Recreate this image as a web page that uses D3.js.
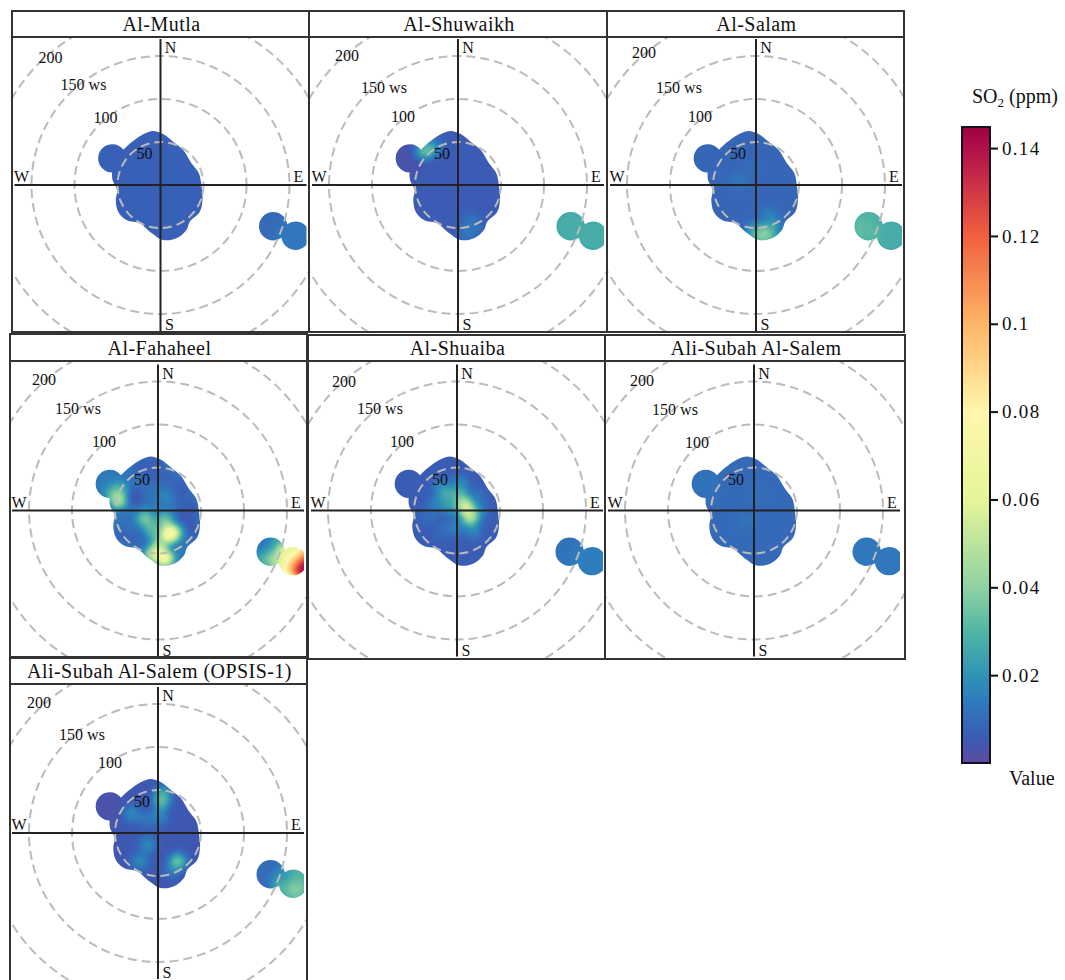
<!DOCTYPE html>
<meta charset="utf-8">
<style>
  body { margin: 0; background: white; }
  text { font-family: "Liberation Serif", serif; fill: #111; }
  .title { font-size: 20px; letter-spacing: 0.45px; text-anchor: middle; }
  .lab { font-size: 16px; text-anchor: middle; }
  .frame { fill: none; stroke: #333; stroke-width: 2; }
  .cross { stroke: #222; stroke-width: 2; }
  .ring { fill: none; stroke: #bbb; stroke-width: 2; stroke-dasharray: 9 5; }
  .bar-axis text { font-size: 19px; letter-spacing: 1.3px; font-family: "Liberation Serif", serif; }
  .bar-axis line { stroke: #111; stroke-width: 2; }
</style>
<script src="https://d3js.org/d3.v7.min.js"></script>
<div id="my_dataviz"></div>

<script>
  const stations = ["Al-Mutla", "Al-Shuwaikh", "Al-Salam", "Al-Fahaheel", "Al-Shuaiba",
                    "Ali-Subah Al-Salem", "Ali-Subah Al-Salem (OPSIS-1)"];

  // panel frames
  const frameLeft   = [12, 309, 607, 10, 308, 605, 10];
  const frameRight  = [309, 607, 904, 307, 605, 905, 307];
  const titleTop    = [11, 11, 11, 334, 335, 335, 658];
  const titleBottom = [37, 37, 37, 361, 361, 361, 684];
  const frameBottom = [332, 332, 332, 657, 659, 659, 990];
  const centerX     = [160.5, 458, 756, 158, 457, 754, 158];
  const centerY     = [185, 185, 185, 510.5, 510.5, 510.5, 833];

  // label offsets from the panel centre [200, 150 ws, 100, 50]
  const ringLabelDx = [[-110, -77, -55, -16], [-111, -74, -55, -16], [-112, -77, -56, -18], [-114, -80, -54, -16],
                       [-113, -77, -55, -17], [-112, -79, -57, -18], [-119, -76, -48, -16]];
  const ringLabelDy = [[-127, -100, -67, -31], [-129, -97, -68, -31], [-132, -97, -68, -31], [-131, -102, -69, -31],
                       [-129, -102, -69, -31], [-130, -101, -68, -31], [-130, -98, -70, -31]];

  const ringValues = [50, 100, 150, 200];
  const ringNames = ["200", "150", "100", "50"];

  // outline of the wind-speed bins that hold data (east, north), the same for every station
  const edgeEast  = [-8.5, 3, 14.7, 26.4, 36, 44.6, 47.7, 48.8, 45.7, 34, 30.2, 18.6, 3, -12.4, -24,
                     -39.5, -49.2, -52, -50.4, -55.8, -55.8, -51.2, -41.5, -28, -18.2];
  const edgeNorth = [62.8, 59.3, 50.4, 40.7, 25.2, 13.6, -1.9, -17.4, -31, -42.6, -52.3, -62, -63.9, -54.3, -44.6,
                     -40.7, -31, -17.4, -5.8, 5.8, 17.4, 29, 42.6, 54.2, 60];
  const lobeEast  = [-56, 131, 157];
  const lobeNorth = [31, -48, -59];

  // SO2: background level, the three outlying lobes, then [east, north, ppm] patches
  const baseLevel = [0.0075, 0.0055, 0.0085, 0.012, 0.0065, 0.0095, 0.005];
  const lobeLevel = [
    [0.0075, 0.0095, 0.013],
    [0.003, 0.027, 0.027],
    [0.0085, 0.03, 0.027],
    [0.014, 0.02, 0.06],
    [0.0065, 0.012, 0.015],
    [0.012, 0.013, 0.013],
    [0.003, 0.01, 0.03]
  ];
  const patches = [
    [],
    [[-35, 41, 0.036], [-41, 39, 0.028], [-25, 45, 0.014], [14, -41, 0.013], [10, -56, 0.014], [20, -50, 0.013]],
    [[-20, 5, 0.014], [9, -56, 0.04], [5, -62, 0.036], [15, -60, 0.036], [-2, -56, 0.028], [20, -48, 0.024], [0, -52, 0.024], [15, -35, 0.016], [-5, 20, 0.011],
     [120, -52, 0.033], [135, -55, 0.032]],
    [[-2, 55, 0.006], [-21, 51, 0.006], [21, 16, 0.006], [29, -7, 0.005], [40, -23, 0.005], [28, 26, 0.006], [38, 4, 0.005], [-8, 40, 0.007], [10, 40, 0.008], [36, -12, 0.005], [15, 30, 0.008],
     [-52, 20, 0.033], [-46, 12, 0.052], [-44, 24, 0.03], [-27, 16, 0.002], [10, 16, 0.018], [-15, -9, 0.04], [-6, -23, 0.034],
     [14, -27, 0.085], [8, -11, 0.038], [22, -25, 0.03], [0, -46, 0.058], [8, -56, 0.075], [-6, -52, 0.055], [23, -52, 0.016], [-41, -29, 0.008], [-25, -34, 0.008], [4, -36, 0.035],
     [122, -40, 0.008], [130, -46, 0.022], [140, -56, 0.05], [128, -58, 0.035], [146, -42, 0.04],
     [150, -50, 0.07], [161, -62, 0.1], [167, -72, 0.16], [172, -64, 0.16], [172, -50, 0.1], [153, -68, 0.09], [166, -44, 0.07]],
    [[10, 4, 0.062], [15, -7, 0.055], [4, 16, 0.034], [-12, 20, 0.028], [-23, 8, 0.018], [-19, 27, 0.018], [0, -19, 0.017], [19, -23, 0.018],
     [-33, -7, 0.012], [-15, -23, 0.012], [23, 16, 0.014], [4, 31, 0.02], [-8, 4, 0.024], [25, -2, 0.02]],
    [[-10, -12, 0.013], [5, 20, 0.012]],
    [[4, 37, 0.036], [6, 46, 0.026], [-31, 23, 0.02], [-14, 16, 0.014], [2, 19, 0.018], [-12, -14, 0.02], [-21, -33, 0.02], [23, -33, 0.038], [17, -43, 0.015],
     [146, -50, 0.02], [161, -66, 0.04], [170, -56, 0.03], [155, -62, 0.032]]
  ];

  const barTicks = [0.02, 0.04, 0.06, 0.08, 0.1, 0.12, 0.14];
  const valueMax = 0.1448;
  // colour ramp as it reads on the colour bar
  const rampValues = [0, 0.006, 0.0145, 0.02, 0.03, 0.04, 0.06, 0.08, 0.1, 0.12, 0.14, 0.1448];
  const rampColors = ["#5b4b9f", "#3a5cb5", "#2f7dbd", "#3093b5", "#52b5a5", "#8fd3a2", "#e6f598", "#fff7ae", "#fdb566", "#f1603f", "#b0104a", "#9e0142"];

  const width = 1065, height = 980;
  const svg = d3.select("#my_dataviz").append("svg")
    .attr("width", width).attr("height", height).style("display", "block");
  const defs = svg.append("defs");

  // wind speed to pixels
  const r = d3.scaleLinear().domain([0, 200]).range([0, 172]);
  const color = d3.scaleLinear().domain(rampValues).range(rampColors).clamp(true);
  const grey = d3.scaleLinear().domain([0, valueMax]).range([0, 255]).clamp(true);

  // the values are painted as grey levels, blurred, then pushed through the colour map
  const tableFor = function(channel) {
    return d3.range(0, 256, 1).map(g => (d3.rgb(color(grey.invert(g)))[channel] / 255).toFixed(3)).join(" ");
  };
  const filter = defs.append("filter").attr("id", "smooth")
    .attr("filterUnits", "userSpaceOnUse")
    .attr("x", -200).attr("y", -200).attr("width", 400).attr("height", 400)
    .attr("color-interpolation-filters", "sRGB");
  filter.append("feGaussianBlur").attr("stdDeviation", 4.2);
  const transfer = filter.append("feComponentTransfer");
  transfer.append("feFuncR").attr("type", "table").attr("tableValues", tableFor("r"));
  transfer.append("feFuncG").attr("type", "table").attr("tableValues", tableFor("g"));
  transfer.append("feFuncB").attr("type", "table").attr("tableValues", tableFor("b"));

  // clip for the coloured surface: the body outline plus the lobes
  const binClip = defs.append("clipPath").attr("id", "bins");
  const outline = d3.line()
    .x(d => r(d))
    .y((d, i) => -r(edgeNorth[i]))
    .curve(d3.curveCatmullRomClosed.alpha(0.5));
  binClip.append("path").attr("d", outline(edgeEast));
  binClip.selectAll("circle").data(lobeEast).join("circle")
    .attr("cx", d => r(d))
    .attr("cy", (d, i) => -r(lobeNorth[i]))
    .attr("r", r(16.5));

  stations.forEach(function(name, i) {
    const left = frameLeft[i], right = frameRight[i], top = titleBottom[i], bottom = Math.min(frameBottom[i], height);
    const cx = centerX[i], cy = centerY[i];

    defs.append("clipPath").attr("id", "plot" + i).append("rect")
      .attr("x", left).attr("y", top)
      .attr("width", right - left).attr("height", bottom - top);
    defs.append("clipPath").attr("id", "range" + i).append("rect")
      .attr("x", -146).attr("y", -146).attr("width", 292).attr("height", 292);

    const panel = svg.append("g").attr("clip-path", `url(#plot${i})`);
    const g = panel.append("g").attr("transform", `translate(${cx}, ${cy})`);

    // surface
    const surface = g.append("g").attr("clip-path", `url(#range${i})`)
      .append("g").attr("clip-path", "url(#bins)")
      .append("g").attr("filter", "url(#smooth)");
    const paint = v => { const c = Math.round(grey(v)); return `rgb(${c},${c},${c})`; };
    surface.append("rect").attr("x", -200).attr("y", -200).attr("width", 400).attr("height", 400)
      .attr("fill", paint(baseLevel[i]));
    surface.selectAll(".lobe").data(lobeEast).join("circle")
      .attr("class", "lobe")
      .attr("cx", d => r(d))
      .attr("cy", (d, k) => -r(lobeNorth[k]))
      .attr("r", (d, k) => r(k === 0 ? 18 : 24))
      .attr("fill", (d, k) => paint(lobeLevel[i][k]));
    surface.selectAll(".patch")
      .data(patches[i].slice().sort((a, b) => a[2] - b[2]))
      .join("circle")
      .attr("class", "patch")
      .attr("cx", d => r(d[0]))
      .attr("cy", d => -r(d[1]))
      .attr("r", r(9))
      .attr("fill", d => paint(d[2]));

    // rings
    g.selectAll(".ring").data(ringValues).join("circle")
      .attr("class", "ring").attr("r", d => r(d));

    // cross
    g.append("line").attr("class", "cross").attr("x1", 0).attr("x2", 0).attr("y1", -146).attr("y2", 146);
    g.append("line").attr("class", "cross").attr("y1", 0).attr("y2", 0).attr("x1", -146).attr("x2", 146);

    // compass
    g.append("text").attr("class", "lab").attr("x", 10).attr("y", -132).text("N");
    g.append("text").attr("class", "lab").attr("x", 9).attr("y", 145).text("S");
    g.append("text").attr("class", "lab").attr("x", -139).attr("y", -3).text("W");
    g.append("text").attr("class", "lab").attr("x", 138).attr("y", -3).text("E");

    // ring labels
    ringNames.forEach(function(t, k) {
      g.append("text").attr("class", "lab")
        .attr("x", ringLabelDx[i][k]).attr("y", ringLabelDy[i][k] + 5)
        .text(t === "150" ? "150 ws" : t);
    });

    // frames
    svg.append("rect").attr("class", "frame").attr("x", left).attr("y", top)
      .attr("width", right - left).attr("height", frameBottom[i] - top);
    svg.append("rect").attr("class", "frame").attr("x", left).attr("y", titleTop[i])
      .attr("width", right - left).attr("height", top - titleTop[i]);
    svg.append("text").attr("class", "title")
      .attr("x", (left + right) / 2 + 1).attr("y", top - 6).text(name);
  });

  // colour bar
  const barY = d3.scaleLinear().domain([0, valueMax]).range([763, 127]);
  const gradient = defs.append("linearGradient").attr("id", "bar")
    .attr("x1", 0).attr("x2", 0).attr("y1", 1).attr("y2", 0);
  gradient.selectAll("stop").data(rampValues).join("stop")
    .attr("offset", d => d / valueMax)
    .attr("stop-color", d => color(d));
  svg.append("rect").attr("x", 962).attr("y", 127).attr("width", 28).attr("height", 636)
    .attr("fill", "url(#bar)").attr("stroke", "#16101f").attr("stroke-width", 2);

  svg.append("g").attr("class", "bar-axis")
    .attr("transform", "translate(990, 0)")
    .call(d3.axisRight(barY).tickValues(barTicks).tickSize(8).tickPadding(4).tickFormat(d3.format("~g")))
    .call(a => a.select(".domain").remove());

  const so2 = svg.append("text").attr("x", 972).attr("y", 103).style("font-size", "20px");
  so2.append("tspan").text("SO");
  so2.append("tspan").attr("dy", 4).style("font-size", "13px").text("2");
  so2.append("tspan").attr("dy", -4).text(" (ppm)");
  svg.append("text").attr("x", 1009).attr("y", 785).style("font-size", "20px").text("Value");
</script>
